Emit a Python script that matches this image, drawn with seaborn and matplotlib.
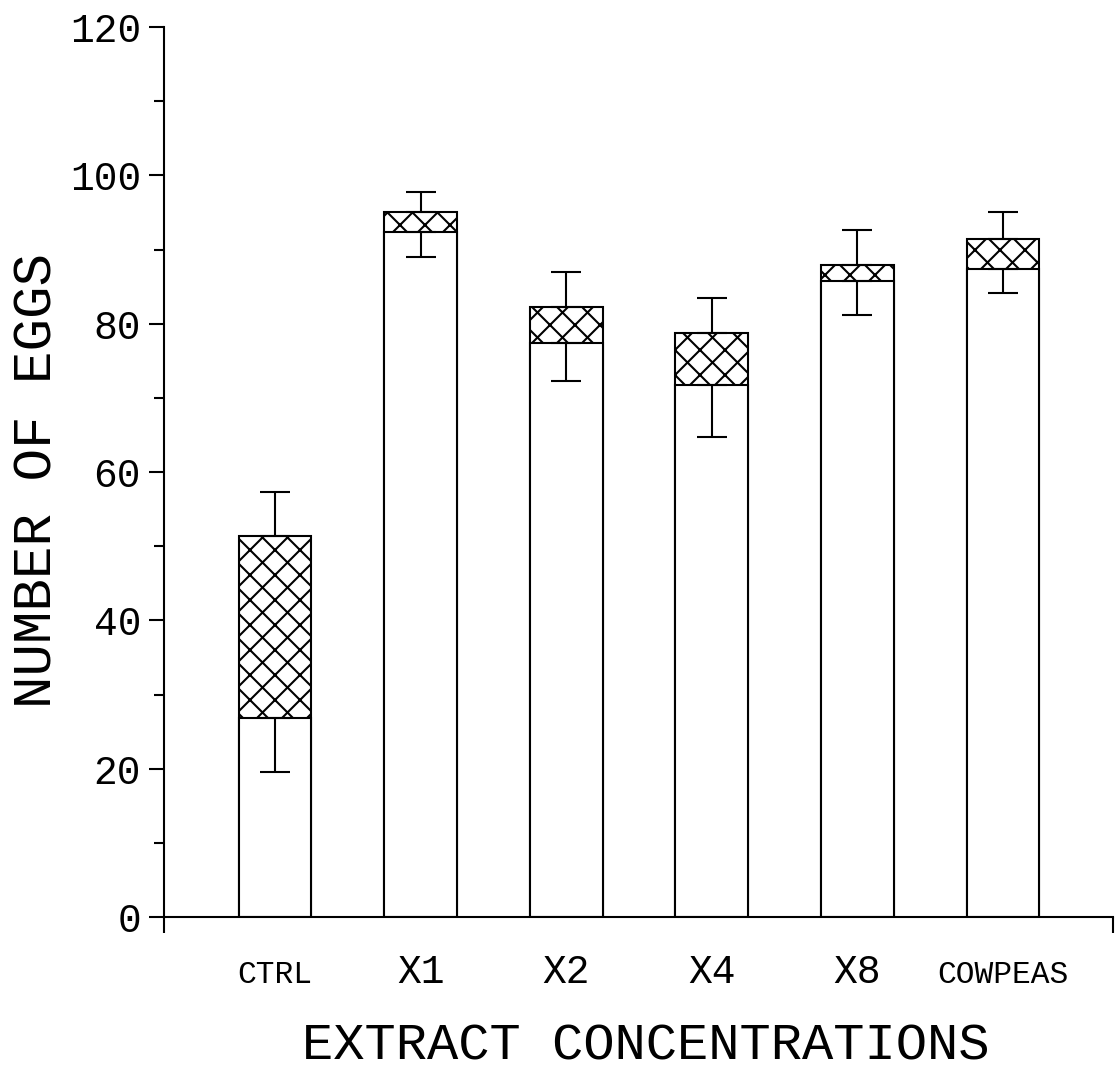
import numpy as np
import matplotlib
matplotlib.use("Agg")
import matplotlib.pyplot as plt
import seaborn as sns
from matplotlib import font_manager

# Egg counts per treatment: lower (open) segment, total height (hatched top), and SE whiskers
categories = ["CTRL", "X1", "X2", "X4", "X8", "COWPEAS"]
lower_values = [26.8, 92.3, 77.4, 71.7, 85.8, 87.4]
total_values = [51.4, 95.1, 82.3, 78.8, 87.9, 91.4]
lower_err = [7.2, 3.3, 5.1, 7.0, 4.6, 3.3]
upper_err = [5.9, 2.7, 4.6, 4.7, 4.7, 3.6]
y_ticks = [0, 20, 40, 60, 80, 100, 120]
label_sizes = [15, 19, 19, 19, 19, 15]

sns.set_style("ticks")
available = {f.name for f in font_manager.fontManager.ttflist}
family = [f for f in ["Liberation Mono", "DejaVu Sans Mono", "DejaVu Sans"] if f in available]
plt.rcParams["font.family"] = family
plt.rcParams["hatch.linewidth"] = 1.0

W, H, DPI = 1115, 1068, 150
fig = plt.figure(figsize=(W / DPI, H / DPI), dpi=DPI)
ax = fig.add_axes([164 / W, 151 / H, (1113 - 164) / W, (917 - 27) / H])

# hatched full bar, then the open lower part drawn over it
sns.barplot(x=categories, y=total_values, color="white", saturation=1,
            edgecolor="black", linewidth=1.0, hatch="xx", width=0.5,
            errorbar=None, ax=ax)
sns.barplot(x=categories, y=lower_values, color="white", saturation=1,
            edgecolor="black", linewidth=1.0, width=0.5,
            errorbar=None, ax=ax)

xpos = np.arange(len(categories))
zeros = np.zeros(len(categories))
ax.errorbar(xpos, lower_values, yerr=[lower_err, zeros], fmt="none",
            ecolor="black", elinewidth=1.0, capsize=7, capthick=1.0, zorder=5)
ax.errorbar(xpos, total_values, yerr=[zeros, upper_err], fmt="none",
            ecolor="black", elinewidth=1.0, capsize=7, capthick=1.0, zorder=5)

xlim = (-0.762, 5.755)
ax.set_xlim(*xlim)
ax.set_ylim(0, 120)

ax.set_yticks(y_ticks)
ax.set_yticks(np.arange(10, 120, 20), minor=True)
ax.set_xticks(xpos)
ax.set_xticklabels(categories)
for lab, s in zip(ax.get_xticklabels(), label_sizes):
    lab.set_fontsize(s)
    lab.set_verticalalignment("baseline")
ax.set_xticks(list(xlim), minor=True)

ax.tick_params(axis="y", which="major", direction="out", length=7, width=1,
               pad=4, labelsize=19, color="black", labelcolor="black")
ax.tick_params(axis="y", which="minor", direction="out", length=4.8, width=1,
               color="black")
ax.tick_params(axis="x", which="major", length=0, pad=31.5, labelcolor="black")
ax.tick_params(axis="x", which="minor", direction="out", length=7.5, width=1,
               color="black")

for side in ["top", "right"]:
    ax.spines[side].set_visible(False)
for side in ["left", "bottom"]:
    ax.spines[side].set_linewidth(1.0)
    ax.spines[side].set_color("black")

ax.set_ylabel("NUMBER OF EGGS", fontsize=26, color="black")
ax.yaxis.set_label_coords((63 - 164) / (1113 - 164), (917 - 481) / (917 - 27))
ax.set_xlabel("EXTRACT CONCENTRATIONS", fontsize=25, color="black")
ax.xaxis.label.set_verticalalignment("baseline")
ax.xaxis.set_label_coords((646 - 164) / (1113 - 164), (917 - 1059) / (917 - 27))

fig.savefig("out.png", dpi=DPI, facecolor="white")
